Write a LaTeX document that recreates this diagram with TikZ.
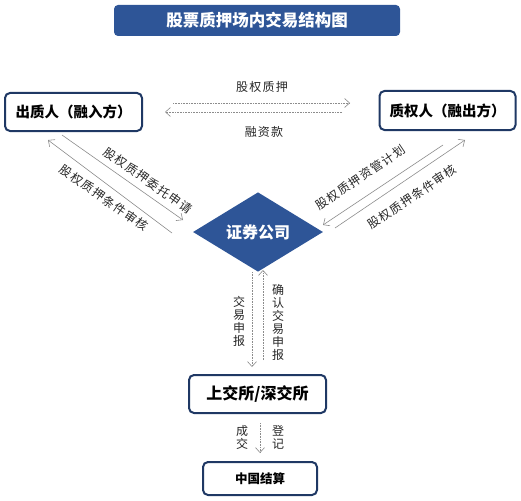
\documentclass[tikz,border=0pt]{standalone}
\usepackage{fontspec}
\setmainfont{Noto Sans CJK SC}
\usetikzlibrary{arrows.meta,shapes.geometric}
\definecolor{titleblue}{HTML}{2E5597}
\definecolor{boxnavy}{HTML}{1F3864}
\definecolor{arwgray}{HTML}{8C8C8C}
\newcommand{\arw}{-{Straight Barb[length=5pt,width=9pt]}}
\newcommand{\lblfont}{\fontsize{12}{13}\selectfont\addfontfeature{LetterSpace=10}}

\begin{document}
\begin{tikzpicture}[x=1pt,y=-1pt,
  party/.style={draw=boxnavy,line width=2pt,rounded corners=5pt,fill=white,
    inner sep=0pt,font=\bfseries\fontsize{14.5}{16}\selectfont},
  flow/.style={draw=arwgray,line width=.6pt},
  dotflow/.style={flow,densely dotted},
  lbl/.style={inner sep=0pt,text=black!85,font=\lblfont},
  vlbl/.style={lbl,align=center}]
\useasboundingbox (0,0) rectangle (521,500);
\node[fill=titleblue,rounded corners=4pt,minimum width=286pt,minimum height=31pt,
  text=white,font=\bfseries\fontsize{16.5}{18}\selectfont] (title) at (257,20.5) {股票质押场内交易结构图};
%parties
\node[party,minimum width=137pt,minimum height=38pt] (pledgor) at (73.5,112) {出质人（融入方）};
\node[party,minimum width=136pt,minimum height=39pt] (pledgee) at (447.5,110.5) {质权人（融出方）};
\node[diamond,fill=titleblue,minimum width=130pt,minimum height=60pt,inner sep=0pt,
  text=white,font=\bfseries\fontsize{16}{18}\selectfont] (broker) at (258,232) {证券公司};
\node[party,minimum width=137pt,minimum height=38pt,font=\bfseries\fontsize{16}{18}\selectfont] (exchange) at (257.5,394) {上交所/深交所};
\node[party,minimum width=114pt,minimum height=33pt,font=\bfseries\fontsize{12.5}{14}\selectfont] (csdc) at (260,478.5) {中国结算};
%pledge and loan
\coordinate (pledgeA) at (173,103);
\coordinate (pledgeB) at (350,103);
\coordinate (loanA) at (342,112);
\coordinate (loanB) at (165,112);
\draw[dotflow,\arw] (pledgeA) -- (pledgeB);
\draw[dotflow,\arw] (loanA) -- (loanB);
\node[lbl] (pledgeL) at (262,87) {股权质押};
\node[lbl] (loanL) at (264,132) {融资款};
%pledgor and broker
\coordinate (entrustA) at (62,135);
\coordinate (entrustB) at (183,220);
\coordinate (auditLA) at (172,233);
\coordinate (auditLB) at (48,140);
\draw[flow,\arw] (entrustA) -- (entrustB);
\draw[flow,\arw] (auditLA) -- (auditLB);
\node[lbl,rotate=-35] (entrustL) at (148,180.5) {股权质押委托申请};
\node[lbl,rotate=-35] (auditLL) at (104,198) {股权质押条件审核};
%pledgee and broker
\coordinate (planA) at (443,145);
\coordinate (planB) at (323,225);
\coordinate (auditRA) at (335,228);
\coordinate (auditRB) at (465,140);
\draw[flow,\arw] (planA) -- (planB);
\draw[flow,\arw] (auditRA) -- (auditRB);
\node[lbl,rotate=34] (planL) at (360.5,177.5) {股权质押资管计划};
\node[lbl,rotate=34] (auditRL) at (412,197) {股权质押条件审核};
%broker and exchange
\coordinate (reportA) at (252,272);
\coordinate (reportB) at (252,367);
\coordinate (confirmA) at (263,360);
\coordinate (confirmB) at (263,270);
\draw[dotflow,\arw] (reportA) -- (reportB);
\draw[dotflow,\arw] (confirmA) -- (confirmB);
\node[vlbl] (reportL) at (239,321) {交\\易\\申\\报};
\node[vlbl] (confirmL) at (278,322.5) {确\\认\\交\\易\\申\\报};
%exchange and clearing
\coordinate (dealA) at (260,423);
\coordinate (dealB) at (260,453);
\draw[dotflow,\arw] (dealA) -- (dealB);
\node[vlbl] (dealL) at (242,437.5) {成\\交};
\node[vlbl] (registerL) at (278,437) {登\\记};
\end{tikzpicture}
\end{document}
